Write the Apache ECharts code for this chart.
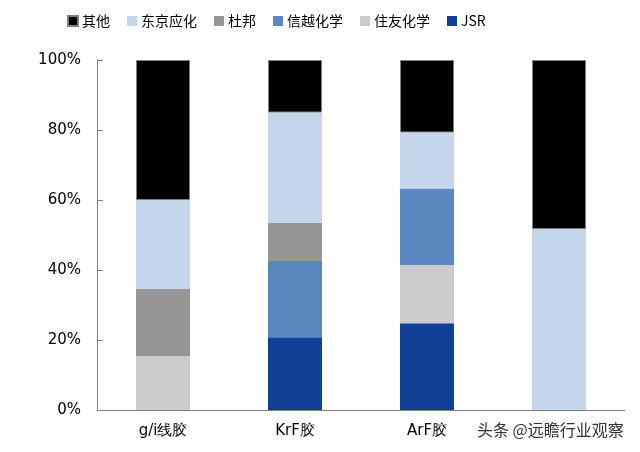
<!DOCTYPE html>
<html>
<head>
    <meta charset="utf-8">
    <title>光刻胶市场份额</title>
    <script src="https://cdn.jsdelivr.net/npm/echarts@6/dist/echarts.min.js"></script>
</head>
<body style="margin:0">
    <div id="main" style="width:640px;height:452px;"></div>
    <script type="text/javascript">
        // 数据
        var categories = ['g/i线胶', 'KrF胶', 'ArF胶', 'EUV胶'];
        var jsr      = [0,    20.8, 24.8, 0];
        var sumitomo = [15.4, 0,    16.6, 0];
        var shinetsu = [0,    21.8, 21.9, 0];
        var dupont   = [19.2, 10.9, 0,    0];
        var tok      = [25.4, 31.5, 16.0, 51.7];
        var others   = [40.0, 15.0, 20.7, 48.3];
        var yTicks = ['0%', '20%', '40%', '60%', '80%', '100%'];

        var myChart = echarts.init(document.getElementById('main'));

        function bar(name, data, color, border) {
            return {
                name: name,
                type: 'bar',
                stack: 'total',
                barWidth: 54,
                data: data,
                itemStyle: {
                    color: color,
                    borderColor: border ? '#7f7f7f' : color,
                    borderWidth: border ? 1 : 0
                }
            };
        }

        var option = {
            animation: false,
            textStyle: { fontFamily: 'Noto Sans CJK SC' },
            legend: {
                top: 9,
                left: 62,
                itemWidth: 10,
                itemHeight: 10,
                itemGap: 17,
                icon: 'rect',
                data: ['其他', '东京应化', '杜邦', '信越化学', '住友化学', 'JSR'],
                textStyle: { fontSize: 14, color: '#000', padding: [0, 0, 0, -1] }
            },
            grid: { left: 97, right: 15, top: 60, bottom: 42 },
            xAxis: {
                type: 'category',
                data: categories,
                axisLine: { lineStyle: { color: '#808080' } },
                axisTick: { inside: true, length: 6, lineStyle: { color: '#808080' } },
                axisLabel: {
                    fontSize: 15,
                    color: '#000',
                    margin: 14,
                    fontFamily: 'DejaVu Sans',
                    formatter: function (v, i) { return i === 3 ? '' : v; }
                }
            },
            yAxis: {
                type: 'value',
                min: 0,
                max: 100,
                interval: 20,
                splitLine: { show: false },
                axisLine: { show: true, lineStyle: { color: '#808080' } },
                axisTick: { show: true, inside: true, length: 6, lineStyle: { color: '#808080' } },
                axisLabel: {
                    fontSize: 15,
                    color: '#000',
                    margin: 16,
                    fontFamily: 'DejaVu Sans',
                    formatter: function (v) { return yTicks[v / 20]; }
                }
            },
            graphic: [{
                type: 'text',
                left: 477,
                top: 422,
                style: {
                    text: '头条 @远瞻行业观察',
                    fontSize: 16,
                    fill: '#333',
                    fontFamily: 'Noto Sans CJK SC'
                }
            }],
            series: [
                bar('JSR', jsr, '#0f4096'),
                bar('住友化学', sumitomo, '#cbcbcb'),
                bar('信越化学', shinetsu, '#5a87c0'),
                bar('杜邦', dupont, '#969696'),
                bar('东京应化', tok, '#c5d5ea'),
                bar('其他', others, '#000000', true)
            ]
        };
        myChart.setOption(option);
    </script>
</body>
</html>
